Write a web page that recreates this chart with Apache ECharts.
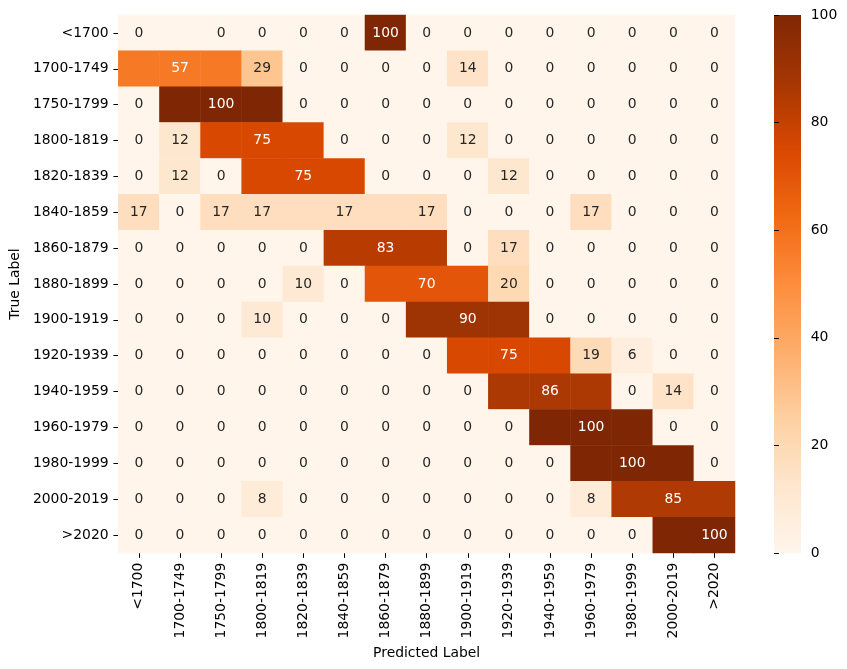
<!DOCTYPE html>
<html><head><meta charset="utf-8">
<script src="https://cdn.jsdelivr.net/npm/echarts@6/dist/echarts.min.js"></script>
<style>html,body{margin:0;padding:0;background:#fff}#c{width:847px;height:669px}</style>
</head><body><div id="c"></div>
<script>
// Category labels (same for true and predicted)
const categories = ['<1700','1700-1749','1750-1799','1800-1819','1820-1839','1840-1859','1860-1879','1880-1899','1900-1919','1920-1939','1940-1959','1960-1979','1980-1999','2000-2019','>2020'];
// Colour bar tick labels
const colorbarTicks = [0, 20, 40, 60, 80, 100];
// Cell values (rows = true label, columns = predicted label), as shown in the picture
const cellValues = [
  [0,0,0,0,0,0,100,0,0,0,0,0,0,0,0],
  [57,57,57,29,0,0,0,0,14,0,0,0,0,0,0],
  [0,100,100,100,0,0,0,0,0,0,0,0,0,0,0],
  [0,12,75,75,75,0,0,0,12,0,0,0,0,0,0],
  [0,12,0,75,75,75,0,0,0,12,0,0,0,0,0],
  [17,0,17,17,17,17,17,17,0,0,0,17,0,0,0],
  [0,0,0,0,0,83,83,83,0,17,0,0,0,0,0],
  [0,0,0,0,10,0,70,70,70,20,0,0,0,0,0],
  [0,0,0,10,0,0,0,90,90,90,0,0,0,0,0],
  [0,0,0,0,0,0,0,0,75,75,75,19,6,0,0],
  [0,0,0,0,0,0,0,0,0,86,86,86,0,14,0],
  [0,0,0,0,0,0,0,0,0,0,100,100,100,0,0],
  [0,0,0,0,0,0,0,0,0,0,0,100,100,100,0],
  [0,0,0,8,0,0,0,0,0,0,0,8,85,85,85],
  [0,0,0,0,0,0,0,0,0,0,0,0,0,100,100]
];
// Cells whose annotation is absent in the picture: [row, column]
const blankLabelCells = [
  [0,1],[1,0],[1,2],[2,1],[2,3],[3,2],[3,4],[4,3],[4,5],[5,4],[5,6],
  [6,5],[6,7],[7,6],[7,8],[8,7],[8,9],[9,8],[9,10],[10,9],[10,11],
  [11,10],[11,12],[12,11],[12,13],[13,12],[13,14],[14,13]
];
// matplotlib "Oranges" colormap stops
const orangesStops = ['#fff5eb','#fee6ce','#fdd0a2','#fdae6b','#fd8d3c','#f16913','#d94801','#a63603','#7f2704'];

const FONT = 'DejaVu Sans';
const FS = 13.9;
const heatData = [];
for (let r = 0; r < cellValues.length; r++) {
  for (let c = 0; c < cellValues[r].length; c++) {
    const v = cellValues[r][c];
    const hidden = blankLabelCells.some(p => p[0] === r && p[1] === c);
    heatData.push({
      value: [c, r, v],
      label: { show: !hidden, color: v >= 50 ? '#ffffff' : '#262626' }
    });
  }
}

// Colour bar box (layout only)
const CB = { left: 774, top: 15, width: 27, height: 538 };

const chart = echarts.init(document.getElementById('c'), null, {renderer: 'canvas'});
chart.setOption({
  animation: false,
  backgroundColor: '#ffffff',
  textStyle: { fontFamily: FONT },
  grid: [
    { left: 115, top: 15, width: 620, height: 538 },
    { left: CB.left, top: CB.top, width: CB.width, height: CB.height }
  ],
  xAxis: [
    {
      type: 'category', data: categories, gridIndex: 0, position: 'bottom',
      axisLine: { show: false },
      axisTick: { show: true, alignWithLabel: true, length: 4.86, lineStyle: { color: '#000', width: 1 } },
      axisLabel: { rotate: 90, interval: 0, color: '#000', fontSize: FS, fontFamily: FONT, margin: 9.7 },
      splitLine: { show: false }, splitArea: { show: false },
      name: 'Predicted Label', nameLocation: 'middle', nameGap: 91,
      nameTextStyle: { color: '#000', fontSize: FS, fontFamily: FONT }
    },
    { type: 'value', gridIndex: 1, show: false, min: 0, max: 1 }
  ],
  yAxis: [
    {
      type: 'category', data: categories, gridIndex: 0, inverse: true,
      axisLine: { show: false },
      axisTick: { show: true, alignWithLabel: true, length: 4.86, lineStyle: { color: '#000', width: 1 } },
      axisLabel: { interval: 0, color: '#000', fontSize: FS, fontFamily: FONT, margin: 9.7 },
      splitLine: { show: false }, splitArea: { show: false },
      name: 'True Label', nameLocation: 'middle', nameGap: 91, nameRotate: 90,
      nameTextStyle: { color: '#000', fontSize: FS, fontFamily: FONT }
    },
    {
      type: 'value', gridIndex: 1, position: 'right', z: 10,
      min: colorbarTicks[0], max: colorbarTicks[colorbarTicks.length - 1],
      interval: colorbarTicks[1] - colorbarTicks[0],
      axisLine: { show: false },
      axisTick: { show: true, inside: false, length: 4.86, lineStyle: { color: '#000', width: 1 } },
      axisLabel: { color: '#000', fontSize: FS, fontFamily: FONT, margin: 9.7 },
      splitLine: { show: false }
    }
  ],
  visualMap: {
    type: 'continuous', min: colorbarTicks[0], max: colorbarTicks[colorbarTicks.length - 1],
    show: false, seriesIndex: 0,
    inRange: { color: orangesStops }
  },
  graphic: [{
    type: 'rect', z: 1, silent: true,
    shape: { x: CB.left, y: CB.top, width: CB.width, height: CB.height },
    style: {
      fill: new echarts.graphic.LinearGradient(0, 1, 0, 0,
        orangesStops.map((c, i) => ({ offset: i / (orangesStops.length - 1), color: c })))
    }
  }],
  series: [{
    type: 'heatmap', xAxisIndex: 0, yAxisIndex: 0, data: heatData,
    label: { show: true, fontSize: FS, fontFamily: FONT },
    itemStyle: { borderWidth: 0 },
    emphasis: { disabled: true }
  }]
});
</script></body></html>
